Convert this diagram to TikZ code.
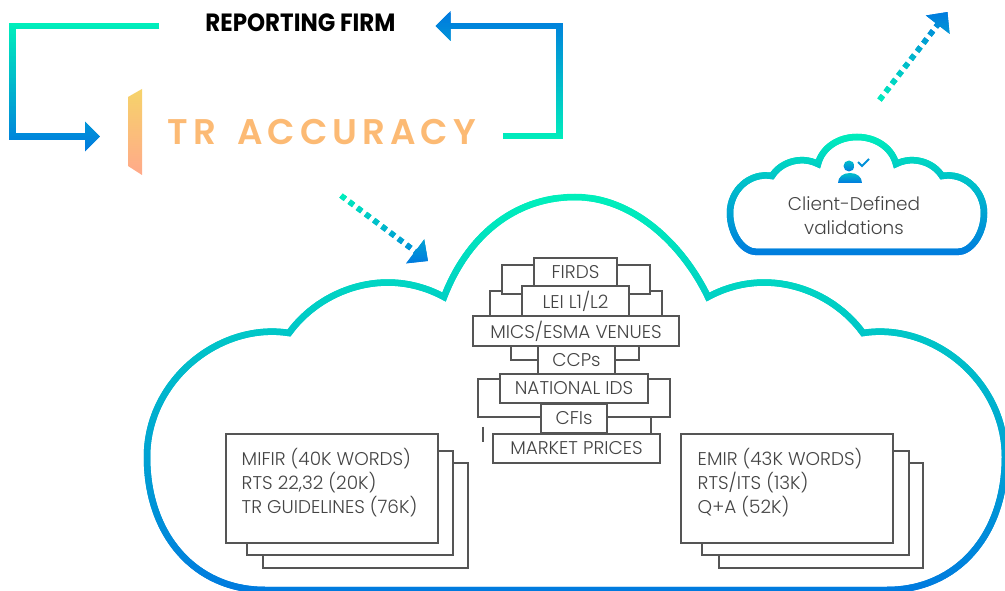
\documentclass[tikz,border=0pt]{standalone}
\usepackage{fontspec}
\setmainfont{Poppins Light}[FakeStretch=1.0]
\newfontfamily\titlefont{Poppins Bold}[FakeStretch=0.92]
\newfontfamily\logofont{Poppins SemiBold}[LetterSpace=14]
\usetikzlibrary{arrows.meta,calc}

\definecolor{gradteal}{HTML}{00EFBB}
\definecolor{gradblue}{HTML}{0079DF}
\definecolor{boxline}{HTML}{555555}
\definecolor{boxtext}{HTML}{444444}
\definecolor{logotop}{HTML}{F6D36A}
\definecolor{logobottom}{HTML}{FFA98A}
\definecolor{logotext}{HTML}{FCBA74}

\newcommand{\gradstroke}[6]{%
\foreach \yb in {#2,\the\numexpr#2+2\relax,...,#3}{%
\pgfmathtruncatemacro\mixv{(\yb-#2)/(#3-#2)*100}
\begin{scope}
\clip (0,\yb) rectangle (1005,\yb+3);
\draw[#1,color=#5!\mixv!#4] #6;
\end{scope}}}

\tikzset{
backbox/.style={draw=boxline,line width=.025cm,fill=white,inner sep=0pt},
frontbox/.style={draw=boxline,line width=.025cm,fill=white,inner sep=0pt,text=boxtext,font=\fontsize{10.5}{12}\selectfont},
doctext/.style={text=boxtext,align=left,inner sep=0pt,anchor=north west,font=\fontsize{10.5}{13.66}\selectfont},
elbow/.style={line width=.13cm,-{Triangle[length=.3cm,width=.58cm]}},
dotline/.style={line width=.11cm,dash pattern=on .11cm off .095cm,-{Triangle[length=.32cm,width=.58cm]}},
cloudline/.style={line width=.13cm,line join=miter}
}

\begin{document}
\begin{tikzpicture}[x=.02cm,y=-.02cm]
\useasboundingbox (0,0) rectangle (1005,591);

\coordinate (la) at (159,26);
\coordinate (lb) at (12.5,26);
\coordinate (lc) at (12.5,136.5);
\coordinate (ld) at (100,136.5);
\coordinate (ra) at (503,136);
\coordinate (rb) at (559.5,136);
\coordinate (rc) at (559.5,26);
\coordinate (rd) at (435.5,26);
\coordinate (dota) at (341,195.5);
\coordinate (dotb) at (428,261);
\coordinate (dotc) at (879.5,100);
\coordinate (dotd) at (947.5,12);

\gradstroke{elbow}{23}{152}{gradteal}{gradblue}{(la) -- (lb) -- (lc) -- (ld)}
\gradstroke{elbow}{12}{140}{gradblue}{gradteal}{(ra) -- (rb) -- (rc) -- (rd)}
\gradstroke{dotline}{194}{264}{gradteal}{gradblue}{(dota) -- (dotb)}
\gradstroke{dotline}{10}{102}{gradblue}{gradteal}{(dotc) -- (dotd)}

\node[font=\titlefont\fontsize{14.2}{16}\selectfont,inner sep=0pt] (firm) at (300.5,22.5) {REPORTING FIRM};
\shade[top color=logotop,bottom color=logobottom] (128,97) -- (142,89) -- (142,175) -- (128,166) -- cycle;
\node[font=\logofont\fontsize{20.3}{24}\selectfont,text=logotext,inner sep=0pt] (accuracy) at (322,132.5) {TR\hspace{.42cm}ACCURACY};

\gradstroke{cloudline}{194}{592}{gradteal}{gradblue}{(265,590) .. controls (195,590) and (147,535) .. (147,457) .. controls (147,380) and (220,322) .. (289,333) .. controls (320,290) and (385,265) .. (444,297) .. controls (470,230) and (520,197) .. (575,197) .. controls (632,197) and (682,243) .. (708,297) .. controls (767,265) and (832,290) .. (863,333) .. controls (932,322) and (1005,380) .. (1005,457) .. controls (1005,535) and (957,590) .. (887,590) -- cycle}

\gradstroke{cloudline}{132}{257}{gradteal}{gradblue}{(757,252) .. controls (742,252) and (730,233) .. (730,213) .. controls (730,190) and (750,172) .. (772,176) .. controls (780,163) and (800,155) .. (818,164) .. controls (822,148) and (838,137) .. (857,137) .. controls (876,137) and (892,148) .. (896,164) .. controls (914,155) and (934,163) .. (942,176) .. controls (964,172) and (984,190) .. (984,213) .. controls (984,233) and (972,252) .. (957,252) -- cycle}

\shade[top color=gradteal!60!gradblue,bottom color=gradblue] (849,166) circle (5.5);
\shade[top color=gradteal!60!gradblue,bottom color=gradblue] (838,183) .. controls (838,177) and (843,173) .. (850,173) .. controls (857,173) and (862,177) .. (862,183) -- cycle;
\draw[gradblue!80!gradteal,line width=.04cm] (858,162) -- (862,166) -- (869,159);
\node[text=boxtext,align=center,inner sep=0pt,font=\fontsize{10.5}{13.66}\selectfont] (client) at (854,216) {Client-Defined\\validations};

\node[backbox,minimum width=3.44cm,minimum height=.5cm] (leiback) at (576,303.5) {};
\node[backbox,minimum width=2.96cm,minimum height=.58cm] (firdsback) at (576,279.5) {};
\node[backbox,minimum width=2.56cm,minimum height=.4cm] (ccpsback) at (575,350) {};
\node[backbox,minimum width=3.84cm,minimum height=.76cm] (nationalback) at (574,398) {};
\draw[boxline,line width=.025cm] (651,418) -- (651,434);
\draw[boxline,line width=.025cm] (483,427) -- (483,442);

\node[frontbox,minimum width=1.66cm,minimum height=.56cm] (firds) at (575.5,272) {FIRDS};
\node[frontbox,minimum width=2.14cm,minimum height=.6cm] (lei) [below of=firds,node distance=.58cm] {LEI L1/L2};
\node[frontbox,minimum width=4.12cm,minimum height=.6cm] (mics) [below of=lei,node distance=.6cm,xshift=.01cm] {MICS/ESMA VENUES};
\node[frontbox,minimum width=1.54cm,minimum height=.56cm] (ccps) [below of=mics,node distance=.58cm,xshift=.01cm] {CCPs};
\node[frontbox,minimum width=2.96cm,minimum height=.58cm] (national) [below of=ccps,node distance=.57cm,xshift=-.05cm] {NATIONAL IDS};
\node[frontbox,minimum width=1.32cm,minimum height=.58cm] (cfis) [below of=national,node distance=.6cm] {CFIs};
\node[frontbox,minimum width=3.34cm,minimum height=.58cm] (market) [below of=cfis,node distance=.6cm,xshift=.05cm] {MARKET PRICES};

\node[backbox,minimum width=4.1cm,minimum height=2.1cm] (mifirlast) at (365.5,515.5) {};
\node[backbox,minimum width=4.12cm,minimum height=2.08cm] (mifirnext) at (350,503) {};
\node[backbox,minimum width=4.24cm,minimum height=2.18cm] (mifir) at (332,488.5) {};
\node[doctext] (mifirtext) at ([xshift=.32cm,yshift=-.3cm]mifir.north west) {MIFIR (40K WORDS)\\RTS 22,32 (20K)\\TR GUIDELINES (76K)};

\node[backbox,minimum width=4.08cm,minimum height=2.1cm] (emirlast) at (821,515.5) {};
\node[backbox,minimum width=4.14cm,minimum height=2.08cm] (emirnext) at (805.5,503) {};
\node[backbox,minimum width=4.24cm,minimum height=2.18cm] (emir) at (787,488.5) {};
\node[doctext] (emirtext) at ([xshift=.34cm,yshift=-.3cm]emir.north west) {EMIR (43K WORDS)\\RTS/ITS (13K)\\Q+A (52K)};
\end{tikzpicture}
\end{document}
